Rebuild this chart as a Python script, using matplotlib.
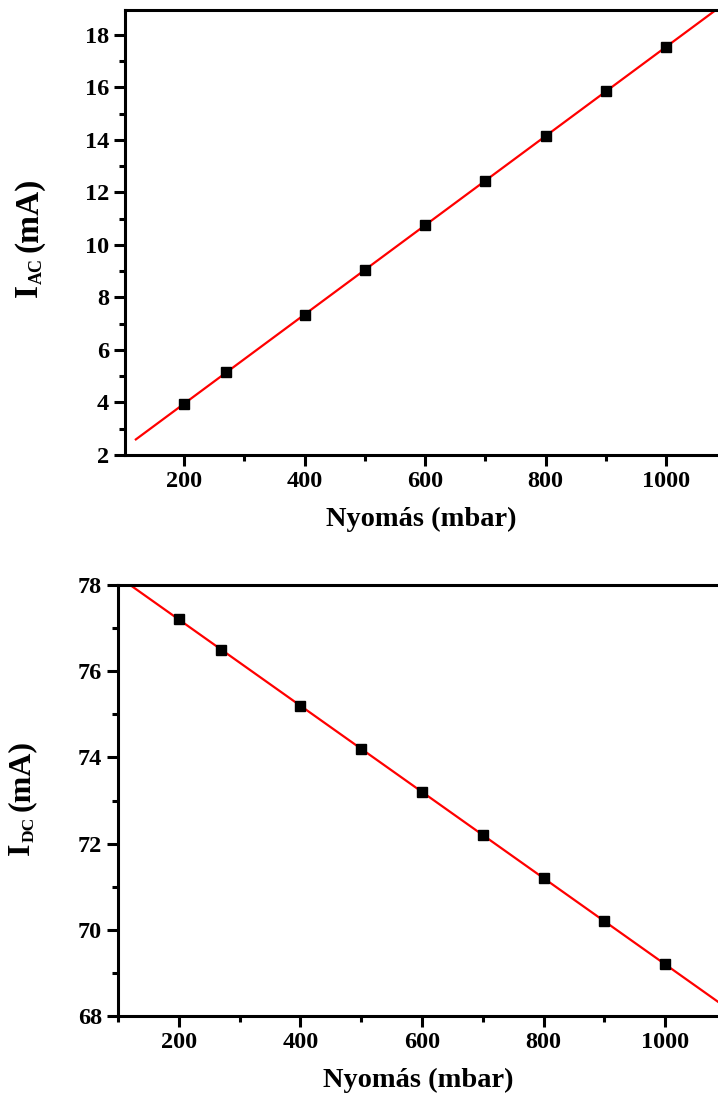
import matplotlib
matplotlib.use("Agg")
import matplotlib.pyplot as plt
from matplotlib.ticker import MultipleLocator
import numpy as np

# Measured currents versus pressure
pressure = [200, 270, 400, 500, 600, 700, 800, 900, 1000]
i_ac = [3.95, 5.15, 7.35, 9.05, 10.75, 12.45, 14.15, 15.85, 17.55]
i_dc = [77.2, 76.5, 75.2, 74.2, 73.2, 72.2, 71.2, 70.2, 69.2]

x_label = "Nyomás (mbar)"
y_symbol = "I"
ac_sub = "AC"
dc_sub = "DC"
y_unit = "(mA)"

plt.rcParams["font.family"] = ["Liberation Serif", "DejaVu Serif"]
plt.rcParams["font.weight"] = "bold"

fig = plt.figure(figsize=(7.18, 11.0), dpi=100)
W, H = 718, 1100


def add_axes(left, top, bottom, right=W):
    return fig.add_axes([left / W, 1 - bottom / H, (right - left) / W, (bottom - top) / H])


def style(ax, ymajor):
    for s in ("left", "top", "bottom"):
        ax.spines[s].set_linewidth(2.2)
    ax.spines["right"].set_visible(False)
    ax.xaxis.set_major_locator(MultipleLocator(200))
    ax.xaxis.set_minor_locator(MultipleLocator(100))
    ax.yaxis.set_major_locator(MultipleLocator(ymajor))
    ax.yaxis.set_minor_locator(MultipleLocator(ymajor / 2))
    ax.tick_params(which="major", direction="out", length=8, width=2.2,
                   labelsize=17.5, top=False, right=False)
    ax.tick_params(which="minor", direction="out", length=4.5, width=2.2,
                   top=False, right=False)
    for lab in ax.get_xticklabels() + ax.get_yticklabels():
        lab.set_fontweight("bold")
    ax.set_xlabel(x_label, fontsize=20.5, fontweight="bold", labelpad=11)


def draw(ax, y, xlim, ylim):
    xs = np.array(pressure, dtype=float)
    ys = np.array(y, dtype=float)
    slope, intercept = np.polyfit(xs, ys, 1)
    xf = np.array([120, xlim[1]])
    ax.plot(xf, slope * xf + intercept, color="red", lw=1.6, zorder=2)
    ax.plot(xs, ys, ls="none", marker="s", ms=6.5, color="black", zorder=3)
    ax.set_xlim(*xlim)
    ax.set_ylim(*ylim)


def vertical_label(x_base, y_bottom, sub, size, sub_size, sub_drop, gap):
    """Rotated 'I_sub (mA)' label built from pieces; coordinates in pixels from top-left."""
    renderer = fig.canvas.get_renderer()
    kw = dict(rotation=90, rotation_mode="anchor", ha="left", va="baseline",
              fontweight="bold")
    t1 = fig.text(x_base / W, 1 - y_bottom / H, y_symbol, fontsize=size, **kw)
    y_next = t1.get_window_extent(renderer).y1
    t2 = fig.text((x_base + sub_drop) / W, y_next / H, sub, fontsize=sub_size, **kw)
    y_next = t2.get_window_extent(renderer).y1 + gap
    fig.text(x_base / W, y_next / H, y_unit, fontsize=size, **kw)


ax1 = add_axes(125, 10, 455)
draw(ax1, i_ac, (102, 1086), (2, 18.95))
style(ax1, 2)

ax2 = add_axes(118, 585, 1016)
draw(ax2, i_dc, (100, 1087), (68, 78))
style(ax2, 2)

vertical_label(37, 297, ac_sub, 24, 13, 5, 6)
vertical_label(29, 855, dc_sub, 23, 12.5, 5, 6)

fig.savefig("out.png", dpi=100)
